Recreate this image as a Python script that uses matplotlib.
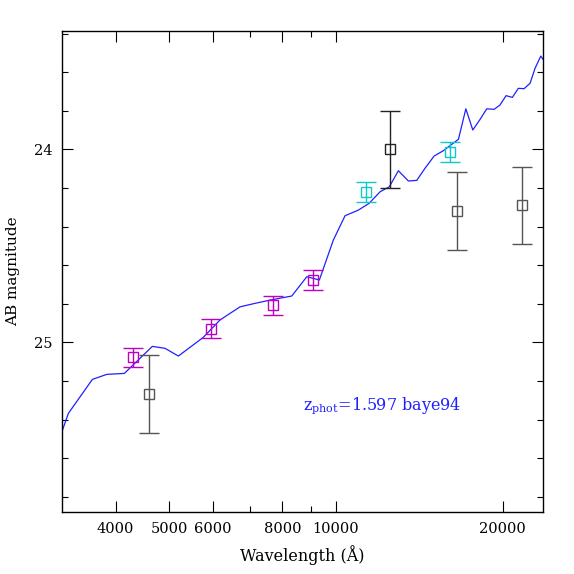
import numpy as np
import matplotlib
matplotlib.use("Agg")
import matplotlib.pyplot as plt

plt.rcParams['font.family'] = ['DejaVu Serif']
plt.rcParams['mathtext.fontset'] = 'dejavuserif'

# best-fit template (wavelength in Angstrom, AB mag)
sed_wave = [3200, 3286, 3631, 3854, 4147, 4659, 4912, 5191, 5759, 6173,
            6709, 7141, 7601, 8318, 8855, 9329, 9888, 10381, 10971, 11471,
            12007, 12480, 12957, 13507, 13985, 14477, 15031, 15623, 16634, 17153,
            17656, 18197, 18711, 19290, 19775, 20276, 20811, 21340, 21852, 22402,
            22873, 23422, 23747]
sed_mag = [25.462, 25.368, 25.192, 25.166, 25.161, 25.021, 25.031, 25.071, 24.974, 24.884,
           24.816, 24.798, 24.781, 24.760, 24.660, 24.677, 24.470, 24.344, 24.315, 24.280,
           24.220, 24.194, 24.111, 24.164, 24.161, 24.098, 24.035, 24.007, 23.948, 23.790,
           23.900, 23.845, 23.790, 23.793, 23.770, 23.722, 23.731, 23.684, 23.686, 23.658,
           23.580, 23.517, 23.541]

# photometry
mag_wave = [4305, 5938, 7705, 9089]
mag_mag = [25.078, 24.930, 24.808, 24.677]
mag_err = [0.05, 0.05, 0.05, 0.05]

cyan_wave = [11330, 16085]
cyan_mag = [24.221, 24.014]
cyan_err = [0.05, 0.05]

blk_wave = [4590, 12530, 16540, 21670]
blk_mag = [25.268, 24.000, 24.320, 24.290]
blk_err = [0.20, 0.20, 0.20, 0.20]
blk_col = ['#555555', '#222222', '#555555', '#555555']

xticks = [4000, 5000, 6000, 8000, 10000, 20000]
xminor = [7000, 9000]
yticks = [24, 25]
yminor = [23.4, 23.6, 23.8, 24.2, 24.4, 24.6, 24.8, 25.2, 25.4, 25.6, 25.8]

fig = plt.figure(figsize=(5.74, 5.74), dpi=100)
ax = fig.add_axes([0.108, 0.108, 0.838, 0.838])

ax.plot(sed_wave, sed_mag, color='#2020ff', lw=0.9, zorder=2)

ax.errorbar(mag_wave, mag_mag, yerr=mag_err, fmt='s', mfc='none', mec='#c000c0',
            ms=7.5, mew=1.0, ecolor='#c000c0', elinewidth=1.0, capsize=7, capthick=1.0, zorder=3)
ax.errorbar(cyan_wave, cyan_mag, yerr=cyan_err, fmt='s', mfc='none', mec='#10c8c8',
            ms=7.5, mew=1.0, ecolor='#10c8c8', elinewidth=1.0, capsize=7, capthick=1.0, zorder=3)
for w, m, e, c in zip(blk_wave, blk_mag, blk_err, blk_col):
    ax.errorbar([w], [m], yerr=[e], fmt='s', mfc='none', mec=c, ms=7.5, mew=1.0,
                ecolor=c, elinewidth=1.0, capsize=7, capthick=1.0, zorder=3)

ax.set_xscale('log')
ax.set_xlim(3200, 23640)
ax.set_ylim(25.879, 23.387)

ax.set_xticks(xticks, [str(t) for t in xticks])
ax.set_xticks(xminor, minor=True)
ax.set_xticklabels([], minor=True)
ax.set_yticks(yticks, [str(t) for t in yticks])
ax.set_yticks(yminor, minor=True)

ax.tick_params(which='both', direction='in', top=True, right=True, labelsize=10.5, pad=7)
ax.tick_params(which='major', length=8, width=0.8)
ax.tick_params(which='minor', length=4, width=0.8)
for s in ax.spines.values():
    s.set_linewidth(1.0)

ax.set_xlabel('Wavelength (Å)', fontsize=11.5, labelpad=7)
ax.set_ylabel('AB magnitude', fontsize=11, labelpad=10)

ax.text(8718, 25.325, r'z$_{\rm phot}$=1.597 baye94', color='#2020ff', fontsize=11.5,
        ha='left', va='center')

fig.savefig('out.png', dpi=100)
